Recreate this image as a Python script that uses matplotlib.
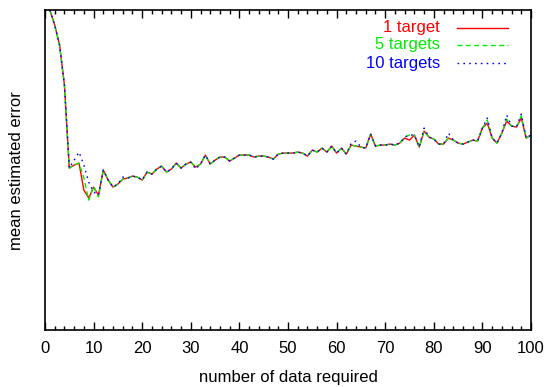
import numpy as np
import matplotlib
matplotlib.use('Agg')
import matplotlib.pyplot as plt
from matplotlib.ticker import MultipleLocator

# number of data required (x) and mean estimated error (arbitrary units)
n_data = list(range(1, 101))

err_1 = [320, 305, 285, 245, 162, 165, 167, 140, 132, 143,
         135, 160, 150, 143, 146, 151, 152, 154, 153, 150,
         158, 156, 161, 164, 158, 161, 167, 162, 166, 168,
         163, 166, 175, 166, 170, 173, 173, 169, 172, 175,
         175, 175, 173, 174, 174, 173, 171, 176, 177, 177,
         177, 178, 177, 174, 180, 178, 182, 178, 184, 177,
         182, 176, 185, 184, 183, 182, 196, 184, 185, 185,
         186, 185, 187, 192, 190, 195, 183, 199, 193, 191,
         186, 186, 192, 190, 187, 186, 188, 190, 189, 202,
         207, 192, 187, 197, 209, 204, 203, 212, 192, 195]

err_5 = [320, 305, 285, 245, 162, 165, 167, 152, 130, 144,
         133, 160, 150, 143, 146, 151, 152, 154, 153, 150,
         158, 156, 161, 164, 158, 161, 167, 162, 166, 168,
         163, 166, 175, 166, 170, 173, 173, 169, 172, 175,
         175, 175, 173, 174, 174, 173, 171, 176, 177, 177,
         177, 178, 177, 174, 180, 178, 182, 178, 184, 177,
         182, 176, 185, 184, 183, 182, 196, 184, 185, 185,
         186, 185, 187, 193, 195, 195, 183, 199, 193, 191,
         186, 186, 192, 190, 187, 186, 188, 190, 189, 202,
         210, 192, 187, 197, 211, 204, 203, 214, 192, 195]

err_10 = [320, 305, 285, 245, 162, 170, 178, 165, 148, 138,
          135, 160, 150, 143, 146, 153, 152, 154, 153, 150,
          158, 156, 161, 164, 158, 161, 167, 162, 166, 168,
          161, 166, 175, 166, 170, 173, 173, 169, 172, 175,
          175, 175, 173, 174, 174, 173, 171, 176, 177, 177,
          177, 178, 177, 174, 180, 178, 182, 178, 184, 177,
          182, 176, 187, 189, 183, 182, 196, 184, 185, 185,
          186, 185, 187, 193, 195, 195, 183, 202, 193, 191,
          186, 186, 197, 190, 187, 186, 188, 190, 189, 202,
          212, 192, 187, 197, 215, 204, 203, 216, 192, 195]

labels = ['1 target', '5 targets', '10 targets']
colors = ['#ff0000', '#00ee00', '#0000ff']
dashes = [(None, None), (3.6, 2.4), (1.2, 3.0)]

plt.rcParams['font.family'] = ['Liberation Sans', 'DejaVu Sans']

fig = plt.figure(figsize=(5.5, 3.87), dpi=100)
ax = fig.add_axes([0.0818, 0.147, 0.8837, 0.827])

series = [err_1, err_5, err_10]
for ys, c, d in zip(series, colors, dashes):
    ln, = ax.plot(n_data, ys, color=c, lw=1.0)
    if d[0] is not None:
        ln.set_dashes(d)

ax.set_xlim(0, 100)
ax.set_ylim(0, 320)
ax.xaxis.set_major_locator(MultipleLocator(10))
ax.xaxis.set_minor_locator(MultipleLocator(2))
ax.tick_params(axis='x', which='both', direction='in', top=True, labelsize=12, pad=8)
ax.tick_params(axis='x', which='major', length=6, width=1)
ax.tick_params(axis='x', which='minor', length=3, width=1)
ax.set_yticks([])
for s in ax.spines.values():
    s.set_linewidth(1.2)

ax.set_xlabel('number of data required', fontsize=12, labelpad=10)
ax.set_ylabel('mean estimated error', fontsize=12, labelpad=15)

# key in the upper right, text right-aligned like gnuplot
rows_y = [0.944, 0.891, 0.834]
for lab, c, d, yy in zip(labels, colors, dashes, rows_y):
    ax.text(0.813, yy, lab, color=c, fontsize=12, ha='right', va='center',
            transform=ax.transAxes)
    k, = ax.plot([0.848, 0.953], [yy, yy], color=c, lw=1.0, transform=ax.transAxes)
    if d[0] is not None:
        k.set_dashes(d)

fig.savefig('out.png', dpi=100)
